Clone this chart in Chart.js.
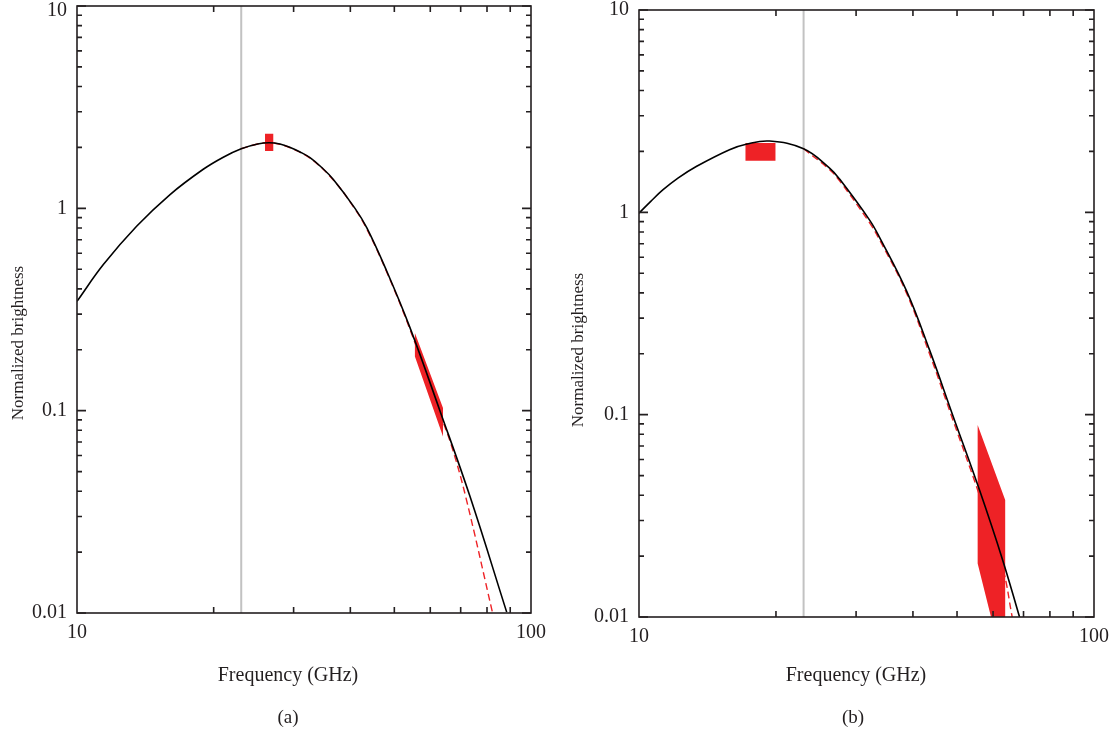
<!DOCTYPE html>
<html lang="en">
<head>
<meta charset="UTF-8">
<title>Normalized brightness vs frequency</title>
<script src="https://cdn.jsdelivr.net/npm/chart.js@4"></script>
<style>
    body { margin: 0; background: #fff; }
    .panel { position: absolute; top: 0; }
</style>
</head>
<body>
<div class="panel" style="left:0"><canvas id="chartA" width="560" height="732"></canvas></div>
<div class="panel" style="left:560px"><canvas id="chartB" width="551" height="732"></canvas></div>

<script>
// axes
const xLabelTicks = [10, 100];
const yLabelTicks = [0.01, 0.1, 1, 10];
const minorSteps = [2, 3, 4, 5, 6, 7, 8, 9];
const markerFreq = 23;

// panel (a)
const freqA = [10, 11.43, 13.53, 16.03, 18.97, 21.0, 23.0, 25.0, 26.5, 28.0, 29.5, 31.0, 32.6, 34.5, 36.7, 40.96, 43.5, 48.1, 54.1, 63.0, 73.4, 88.4];
const fitA = [0.347, 0.527, 0.815, 1.17, 1.56, 1.79, 1.97, 2.08, 2.11, 2.08, 2.0, 1.9, 1.78, 1.6, 1.39, 1.0, 0.8, 0.49, 0.258, 0.1, 0.0376, 0.0101];
const dashFreqA = [23.0, 25.0, 26.5, 28.0, 29.5, 32.6, 36.7, 40.96, 43.5, 48.1, 54.1, 63.0, 66.9, 71.8, 82.3];
const dashA = [1.97, 2.08, 2.11, 2.07, 1.99, 1.77, 1.38, 0.99, 0.79, 0.485, 0.253, 0.097, 0.0665, 0.0376, 0.01];
const boxFreqA = [25.95, 27.06];
const boxA = [1.92, 2.34];
const bandFreqA = [55.5, 55.5, 64.0, 64.0];
const bandA = [0.242, 0.185, 0.0745, 0.103];

// panel (b)
const freqB = [10, 10.6, 11.28, 12.2, 13.36, 15.81, 17.2, 19.36, 23.0, 26.2, 27.6, 32.1, 33.8, 38.7, 43.5, 48.9, 56.0, 63.0, 68.6];
const fitB = [0.99, 1.13, 1.29, 1.48, 1.685, 2.04, 2.17, 2.25, 2.06, 1.66, 1.46, 0.918, 0.75, 0.41, 0.209, 0.0997, 0.0425, 0.0191, 0.01];
const dashFreqB = [23.0, 26.2, 27.6, 32.1, 33.8, 38.7, 43.5, 48.9, 56.0, 63.0, 66.1];
const dashB = [2.06, 1.63, 1.43, 0.89, 0.73, 0.4, 0.2, 0.095, 0.04, 0.0175, 0.01];
const boxFreqB = [17.14, 19.95];
const boxB = [1.80, 2.2];
const bandFreqB = [55.5, 55.5, 63.8, 63.8];
const bandB = [0.0889, 0.0184, 0.00524, 0.0379];

const RED = 'rgb(238, 34, 38)';
const INK = '#231f20';

Chart.defaults.font.family = "'Liberation Serif', 'DejaVu Serif', serif";
Chart.defaults.font.size = 20;
Chart.defaults.color = INK;

const toPoints = (xs, ys) => xs.map((x, i) => ({ x: x, y: ys[i] }));
const boxPoints = (fs, vs) => [
    { x: fs[0], y: vs[0] }, { x: fs[1], y: vs[0] },
    { x: fs[1], y: vs[1] }, { x: fs[0], y: vs[1] }, { x: fs[0], y: vs[0] }
];
const yMax = yLabelTicks[yLabelTicks.length - 1];

// frame with inward ticks on all four sides
const frameTicks = {
    id: 'frameTicks',
    afterDatasetsDraw(chart) {
        const { ctx, chartArea: a, scales: { x, y } } = chart;
        ctx.save();
        ctx.strokeStyle = INK;
        ctx.lineWidth = 1.6;
        ctx.beginPath();
        yLabelTicks.forEach((d, i) => {
            const py = y.getPixelForValue(d);
            ctx.moveTo(a.left, py); ctx.lineTo(a.left + 9, py);
            ctx.moveTo(a.right, py); ctx.lineTo(a.right - 9, py);
            if (i === yLabelTicks.length - 1) return;
            minorSteps.forEach(m => {
                const p = y.getPixelForValue(d * m);
                ctx.moveTo(a.left, p); ctx.lineTo(a.left + 5, p);
                ctx.moveTo(a.right, p); ctx.lineTo(a.right - 5, p);
            });
        });
        minorSteps.forEach(m => {
            const px = x.getPixelForValue(xLabelTicks[0] * m);
            ctx.moveTo(px, a.bottom); ctx.lineTo(px, a.bottom - 6);
            ctx.moveTo(px, a.top); ctx.lineTo(px, a.top + 6);
        });
        ctx.stroke();
        ctx.strokeRect(a.left, a.top, a.right - a.left, a.bottom - a.top);
        ctx.restore();
    }
};

// axis titles and panel letter
const captions = {
    id: 'captions',
    afterDraw(chart, args, opts) {
        const ctx = chart.ctx;
        ctx.save();
        ctx.fillStyle = INK;
        ctx.textAlign = 'center';
        ctx.textBaseline = 'middle';
        ctx.font = "20px 'Liberation Serif', serif";
        ctx.fillText(opts.xTitle, opts.xTitleX, opts.xTitleY);
        ctx.font = "19px 'Liberation Serif', serif";
        ctx.fillText(opts.panel, opts.panelX, opts.panelY);
        ctx.translate(opts.yTitleX, opts.yTitleY);
        ctx.rotate(-Math.PI / 2);
        ctx.font = "17px 'Liberation Serif', serif";
        ctx.fillText(opts.yTitle, 0, 0);
        ctx.restore();
    }
};

function makePanel(id, d) {
    const ctx = document.getElementById(id).getContext('2d');
    return new Chart(ctx, {
        type: 'scatter',
        data: {
            datasets: [{
                data: toPoints(d.freq, d.fit),
                showLine: true,
                borderColor: '#000',
                borderWidth: 1.6,
                pointRadius: 0,
                tension: 0.4,
                order: 1
            }, {
                data: toPoints(d.dashFreq, d.dash),
                showLine: true,
                borderColor: RED,
                borderWidth: 1.4,
                borderDash: [7, 4],
                pointRadius: 0,
                tension: 0.4,
                order: 2
            }, {
                data: boxPoints(d.boxFreq, d.box),
                showLine: true,
                borderWidth: 0,
                backgroundColor: RED,
                fill: 'shape',
                pointRadius: 0,
                order: 3
            }, {
                data: toPoints(d.bandFreq.concat(d.bandFreq[0]), d.band.concat(d.band[0])),
                showLine: true,
                borderWidth: 0,
                backgroundColor: RED,
                fill: 'shape',
                pointRadius: 0,
                order: 3
            }, {
                data: [{ x: markerFreq, y: yLabelTicks[0] }, { x: markerFreq, y: yMax }],
                showLine: true,
                borderColor: '#c2c2c2',
                borderWidth: 2,
                pointRadius: 0,
                order: 4
            }]
        },
        options: {
            responsive: false,
            animation: false,
            layout: { padding: { top: d.top, right: d.right, left: 0, bottom: 0 } },
            scales: {
                x: {
                    type: 'logarithmic',
                    min: xLabelTicks[0],
                    max: xLabelTicks[1],
                    grid: { display: false, drawTicks: false },
                    border: { display: false },
                    afterBuildTicks: s => { s.ticks = xLabelTicks.map(v => ({ value: v })); },
                    ticks: { padding: 8, maxRotation: 0, autoSkip: false, callback: v => String(v) },
                    afterFit: s => { s.height = d.bottom; s.paddingLeft = 0; s.paddingRight = 0; }
                },
                y: {
                    type: 'logarithmic',
                    min: yLabelTicks[0],
                    max: yMax,
                    grid: { display: false, drawTicks: false },
                    border: { display: false },
                    afterBuildTicks: s => { s.ticks = yLabelTicks.map(v => ({ value: v })); },
                    ticks: {
                        padding: 10,
                        autoSkip: false,
                        // keep the top label inside the canvas when the frame sits close to the edge
                        callback: v => (d.liftTop && v === yMax) ? ['', String(v)] : String(v),
                        font: c => (d.liftTop && c.tick && c.tick.value === yMax)
                            ? { size: 20, lineHeight: '9px' } : { size: 20 }
                    },
                    afterFit: s => { s.width = d.left; s.paddingTop = 0; s.paddingBottom = 0; }
                }
            },
            plugins: {
                legend: { display: false },
                tooltip: { enabled: false },
                captions: d.captions
            }
        },
        plugins: [frameTicks, captions]
    });
}

makePanel('chartA', {
    freq: freqA, fit: fitA, dashFreq: dashFreqA, dash: dashA,
    boxFreq: boxFreqA, box: boxA, bandFreq: bandFreqA, band: bandA,
    left: 77, top: 6, right: 29, bottom: 119, liftTop: true,
    captions: {
        xTitle: 'Frequency (GHz)', xTitleX: 288, xTitleY: 676,
        yTitle: 'Normalized brightness', yTitleX: 19, yTitleY: 343,
        panel: '(a)', panelX: 288, panelY: 718
    }
});

makePanel('chartB', {
    freq: freqB, fit: fitB, dashFreq: dashFreqB, dash: dashB,
    boxFreq: boxFreqB, box: boxB, bandFreq: bandFreqB, band: bandB,
    left: 79, top: 10, right: 17, bottom: 115, liftTop: false,
    captions: {
        xTitle: 'Frequency (GHz)', xTitleX: 296, xTitleY: 676,
        yTitle: 'Normalized brightness', yTitleX: 19, yTitleY: 350,
        panel: '(b)', panelX: 293, panelY: 718
    }
});
</script>
</body>
</html>
